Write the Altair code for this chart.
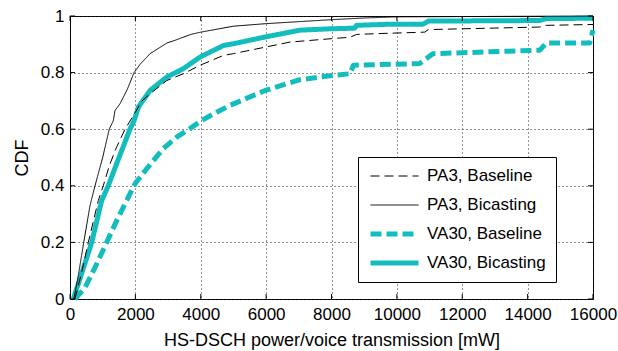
import altair as alt
import pandas as pd

# ---- data ----
series_names = ["PA3, Baseline", "PA3, Bicasting", "VA30, Baseline", "VA30, Bicasting"]

pa3_bic_x = [120, 250, 420, 612, 765, 1000, 1200, 1325, 1376, 1530, 1750, 1960, 2150, 2450, 2973, 3210, 3700, 4000,
             5000, 6000, 7000, 8000, 9000, 10000, 12000, 16000]
pa3_bic_y = [0, 0.08, 0.2, 0.33, 0.4, 0.5, 0.6, 0.63, 0.666, 0.69, 0.74, 0.80, 0.83, 0.867, 0.905, 0.914, 0.935, 0.943,
             0.964, 0.973, 0.98, 0.987, 0.993, 0.997, 0.998, 1.0]

pa3_base_x = [150, 350, 560, 866, 1018, 1200, 1400, 1682, 2000, 2200, 2450, 2960, 3470, 3980, 4700, 5000, 5973, 6737,
              8010, 8568, 8770, 9484, 10857, 10960, 14370, 14573, 16000]
pa3_base_y = [0, 0.09, 0.2, 0.348, 0.4, 0.47, 0.53, 0.6, 0.66, 0.70, 0.725, 0.772, 0.796, 0.826, 0.861, 0.867, 0.89,
              0.908, 0.92, 0.925, 0.935, 0.938, 0.943, 0.952, 0.961, 0.967, 0.97]

va30_bic_x = [100, 300, 664, 970, 1171, 1400, 1600, 1835, 1960, 2100, 2450, 2960, 3470, 3980, 4700, 5000, 5973, 7040,
              8010, 8700, 8770, 9790, 10800, 10960, 14370, 14573, 16000]
va30_bic_y = [0, 0.07, 0.2, 0.348, 0.4, 0.47, 0.53, 0.6, 0.63, 0.68, 0.737, 0.784, 0.814, 0.855, 0.896, 0.902, 0.926,
              0.95, 0.955, 0.957, 0.967, 0.971, 0.971, 0.982, 0.984, 0.991, 0.992]

va30_base_x = [150, 460, 800, 1122, 1400, 1733, 1988, 2345, 2853, 3263, 3670, 4028, 4486, 4893, 5973, 7040, 8010, 8568,
               8670, 10700, 11100, 14370, 14573, 15900, 16000]
va30_base_y = [0, 0.04, 0.12, 0.2, 0.27, 0.348, 0.407, 0.46, 0.531, 0.572, 0.602, 0.631, 0.66, 0.684, 0.737, 0.775,
               0.79, 0.796, 0.826, 0.832, 0.867, 0.879, 0.905, 0.905, 0.95]

x_ticks = [0, 2000, 4000, 6000, 8000, 10000, 12000, 14000, 16000]
y_ticks = [0, 0.2, 0.4, 0.6, 0.8, 1.0]

# ---- build table (VA30 first so black lines draw on top) ----
rows = []
for name, xs, ys in [("VA30, Bicasting", va30_bic_x, va30_bic_y),
                     ("VA30, Baseline", va30_base_x, va30_base_y),
                     ("PA3, Baseline", pa3_base_x, pa3_base_y),
                     ("PA3, Bicasting", pa3_bic_x, pa3_bic_y)]:
    for xv, yv in zip(xs, ys):
        rows.append({"series": name, "power": xv, "cdf": yv})
df = pd.DataFrame(rows)

CYAN = "#14BDBD"
FONT = "Liberation Sans"
W, H = 523, 283

leg = alt.Legend(title=None, orient="none", legendX=288, legendY=141,
                 strokeColor="black", fillColor="white", padding=10,
                 symbolType="stroke", symbolSize=2304, labelFontSize=17, labelFont=FONT,
                 labelColor="black", rowPadding=11, clipHeight=18, labelOffset=6,
                 cornerRadius=0)

xscale = alt.Scale(domain=[0, 16000], nice=False, zero=False)
yscale = alt.Scale(domain=[0, 1], nice=False)

lines = alt.Chart(df).mark_line(strokeCap="butt", strokeJoin="round").encode(
    x=alt.X("power:Q", scale=xscale,
            axis=alt.Axis(values=x_ticks, format="d", title="HS-DSCH power/voice transmission [mW]",
                          grid=True, ticks=False, labelPadding=7, titlePadding=9,
                          labelOverlap=False, labelFlush=False)),
    y=alt.Y("cdf:Q", scale=yscale,
            axis=alt.Axis(values=y_ticks, format="~g", title="CDF", grid=True, ticks=False,
                          labelPadding=6, titlePadding=9, labelOverlap=False, labelFlush=False)),
    color=alt.Color("series:N", scale=alt.Scale(domain=series_names,
                                                range=["black", "black", CYAN, CYAN]), legend=leg),
    strokeDash=alt.StrokeDash("series:N", scale=alt.Scale(domain=series_names,
                                                          range=[[9, 5], [1, 0], [11, 5], [1, 0]]), legend=leg),
    strokeWidth=alt.StrokeWidth("series:N", scale=alt.Scale(type="ordinal", domain=series_names,
                                                            range=[1, 1, 5, 5]), legend=leg),
    detail="series:N",
)

xt = pd.DataFrame({"t": x_ticks})
yt = pd.DataFrame({"t": y_ticks})
tick_bottom = alt.Chart(xt).mark_rule(color="black", strokeWidth=1).encode(
    x=alt.X("t:Q", scale=xscale), y=alt.value(H), y2=alt.value(H - 5))
tick_top = alt.Chart(xt).mark_rule(color="black", strokeWidth=1).encode(
    x=alt.X("t:Q", scale=xscale), y=alt.value(0), y2=alt.value(5))
tick_left = alt.Chart(yt).mark_rule(color="black", strokeWidth=1).encode(
    y=alt.Y("t:Q", scale=yscale), x=alt.value(0), x2=alt.value(5))
tick_right = alt.Chart(yt).mark_rule(color="black", strokeWidth=1).encode(
    y=alt.Y("t:Q", scale=yscale), x=alt.value(W), x2=alt.value(W - 5))

chart = alt.layer(lines, tick_bottom, tick_top, tick_left, tick_right).properties(
    width=W, height=H,
    autosize=alt.AutoSizeParams(type="none"),
    padding={"left": 70, "top": 16, "right": 25, "bottom": 52},
    background="white",
).configure_view(
    stroke="black", strokeWidth=1
).configure_axis(
    labelFont=FONT, labelFontSize=17, labelColor="black",
    titleFont=FONT, titleFontSize=18, titleColor="black", titleFontWeight="normal",
    gridColor="#222222", gridDash=[1, 3], gridWidth=1, gridOpacity=1,
    domain=False,
)

chart.save("out.html", embed_options={"renderer": "svg", "actions": False})
